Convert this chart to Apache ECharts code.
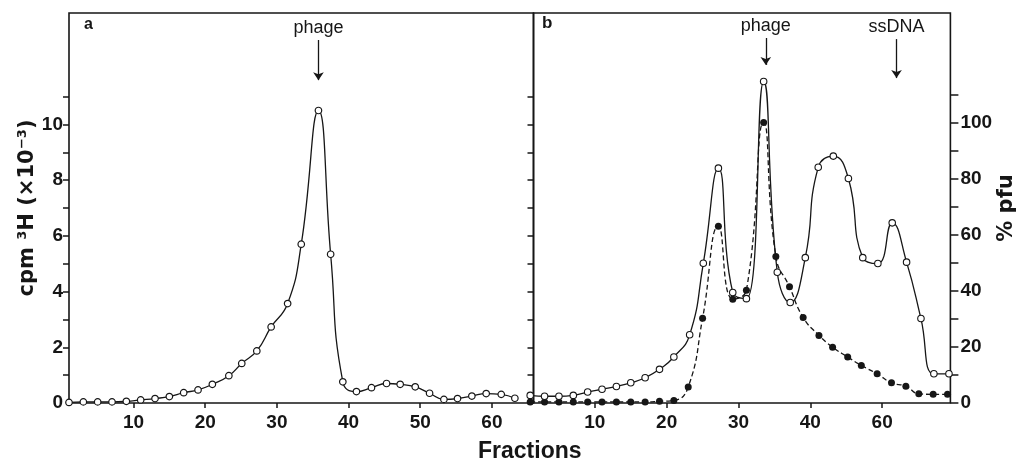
<!DOCTYPE html>
<html><head><meta charset="utf-8">
<script src="https://cdn.jsdelivr.net/npm/echarts@6/dist/echarts.min.js"></script>
<style>html,body{margin:0;padding:0;background:#fff}#c{width:1018px;height:464px}</style>
</head><body><div id="c"></div>
<script>
// Panel a: open circles, cpm 3H (x10^-3)
const aFractions = [1,3,5,7,9,11,13,15,17,19,21,23.3,25.1,27.2,29.2,31.5,33.4,35.8,37.5,39.2,41.1,43.2,45.3,47.2,49.3,51.3,53.3,55.2,57.2,59.2,61.3,63.2];
const aCpm = [0.02,0.04,0.04,0.04,0.06,0.11,0.16,0.23,0.37,0.47,0.67,0.98,1.42,1.87,2.73,3.57,5.70,10.5,5.34,0.76,0.41,0.55,0.70,0.67,0.58,0.35,0.13,0.16,0.25,0.34,0.31,0.17];
// Panel b: open circles (solid line) and filled circles (dashed line), % pfu
const bOpenFractions = [1,3,5,7,9,11,13,15,17,19,21,23.2,25.1,27.2,29.2,31.1,33.5,35.4,37.2,39.3,41.1,43.2,45.3,47.3,49.4,51.4,53.4,55.4,57.2,59.3];
const bOpenPfu = [2.7,2.4,2.4,2.7,3.9,4.9,5.9,7.2,9.0,12.0,16.4,24.3,49.8,83.7,39.4,37.2,114.6,46.6,35.8,51.8,84,88,80,51.8,49.7,64.2,50.2,30.1,10.4,10.4];
const bFilledFractions = [1,3,5,7,9,11,13,15,17,19,21,23,25,27.2,29.2,31.1,33.5,35.2,37.1,39,41.2,43.1,45.2,47.1,49.3,51.3,53.3,55.1,57.1,59.1];
const bFilledPfu = [0.4,0.4,0.4,0.4,0.4,0.4,0.4,0.4,0.4,0.6,0.9,5.7,30.2,63.0,37.0,40.2,100,52.2,41.4,30.5,24.1,19.9,16.4,13.4,10.4,7.2,6.0,3.3,3.1,3.1];
// Tick labels
const aXTicks = [10,20,30,40,50,60];
const bXTicks = [10,20,30,40,50];
const bXTickLabels = ['10','20','30','40','60'];
const cpmTicks = [1,2,3,4,5,6,7,8,9,10,11];
const cpmLabels = [0,2,4,6,8,10];
const pfuTicks = [0,10,20,30,40,50,60,70,80,90,100,110];
const pfuLabels = [0,20,40,60,80,100];

const ink = '#161616';
const tickFont = {fontFamily:'Liberation Sans', fontWeight:'bold', fontSize:19, color:ink};
const zip = (xs, ys) => xs.map((x,i)=>[x, ys[i]]);
const chart = echarts.init(document.getElementById('c'), null, {renderer:'canvas'});
const arrowLabel = {show:true, position:'start', formatter:'{b}', distance:3, fontFamily:'Liberation Sans', fontSize:18, color:ink};
const option = {
  animation:false,
  backgroundColor:'#fff',
  grid:[
    {left:69, top:13, width:464.5, height:390, show:true, borderColor:ink, borderWidth:1.6},
    {left:533.5, top:13, width:418.2, height:390, show:true, borderColor:ink, borderWidth:1.6}
  ],
  xAxis:[
    {gridIndex:0, type:'value', min:1, max:65.8, axisLine:{show:false}, splitLine:{show:false},
     axisTick:{show:true, customValues:aXTicks, length:5, lineStyle:{color:ink, width:1.5}},
     axisLabel:Object.assign({customValues:aXTicks, margin:10}, tickFont)},
    {gridIndex:1, type:'value', min:1.46, max:59.5, axisLine:{show:false}, splitLine:{show:false},
     axisTick:{show:true, customValues:bXTicks, length:5, lineStyle:{color:ink, width:1.5}},
     axisLabel:Object.assign({customValues:bXTicks, margin:10,
       formatter:v => bXTickLabels[bXTicks.indexOf(v)]}, tickFont)}
  ],
  yAxis:[
    {gridIndex:0, type:'value', min:0, max:14, axisLine:{show:false}, splitLine:{show:false},
     axisTick:{show:true, customValues:cpmTicks, length:6, lineStyle:{color:ink, width:1.5}},
     axisLabel:Object.assign({customValues:cpmLabels, margin:6}, tickFont),
     name:'cpm ³H (×10⁻³)', nameLocation:'middle', nameGap:31, nameRotate:90,
     nameTextStyle:{fontFamily:'DejaVu Sans', fontWeight:'bold', fontSize:21, color:ink}},
    {gridIndex:0, type:'value', position:'right', min:0, max:14, axisLine:{show:false}, splitLine:{show:false},
     axisTick:{show:true, inside:true, customValues:cpmTicks, length:6, lineStyle:{color:ink, width:1.5}},
     axisLabel:{show:false}},
    {gridIndex:1, type:'value', position:'right', min:0, max:139, axisLine:{show:false}, splitLine:{show:false},
     axisTick:{show:true, customValues:pfuTicks, length:8, lineStyle:{color:ink, width:1.5}},
     axisLabel:Object.assign({customValues:pfuLabels, margin:10}, tickFont),
     name:'% pfu', nameLocation:'middle', nameGap:42, nameRotate:90,
     nameTextStyle:{fontFamily:'DejaVu Sans', fontWeight:'bold', fontSize:21, color:ink}}
  ],
  graphic:[
    {type:'text', left:84, top:17, style:{text:'a', font:'bold 16px "Liberation Sans"', fill:ink}},
    {type:'text', left:542, top:15, style:{text:'b', font:'bold 17px "Liberation Sans"', fill:ink}},
    {type:'text', left:478, top:440, style:{text:'Fractions', font:'bold 23px "Liberation Sans"', fill:ink}}
  ],
  series:[
    {type:'line', xAxisIndex:0, yAxisIndex:0, data:zip(aFractions, aCpm), smooth:0.5, clip:false,
     symbol:'circle', symbolSize:6.5, itemStyle:{color:'#fff', borderColor:ink, borderWidth:1.2},
     lineStyle:{color:ink, width:1.3}, z:3,
     markLine:{silent:true, symbol:['none','arrow'], symbolSize:8, animation:false,
       lineStyle:{color:ink, width:1.3, type:'solid'}, label:arrowLabel,
       data:[[{name:'phage', coord:[35.8,13.03]},{name:'phage', coord:[35.8,11.59]}]]}},
    {type:'line', xAxisIndex:1, yAxisIndex:2, data:zip(bFilledFractions, bFilledPfu), smooth:0.5, clip:false,
     symbol:'circle', symbolSize:7, itemStyle:{color:ink, borderColor:ink, borderWidth:0},
     lineStyle:{color:ink, width:1.3, type:[5,3]}, z:2},
    {type:'line', xAxisIndex:1, yAxisIndex:2, data:zip(bOpenFractions, bOpenPfu), smooth:0.5, clip:false,
     symbol:'circle', symbolSize:6.5, itemStyle:{color:'#fff', borderColor:ink, borderWidth:1.1},
     lineStyle:{color:ink, width:1.3}, z:3,
     markLine:{silent:true, symbol:['none','arrow'], symbolSize:8, animation:false,
       lineStyle:{color:ink, width:1.3, type:'solid'}, label:arrowLabel,
       data:[[{name:'phage', coord:[33.8,130.1]},{name:'phage', coord:[33.8,120.5]}],
             [{name:'ssDNA', coord:[52,129.7]},{name:'ssDNA', coord:[52,115.8]}]]}}
  ]
};
chart.setOption(option);
</script>
</body></html>
